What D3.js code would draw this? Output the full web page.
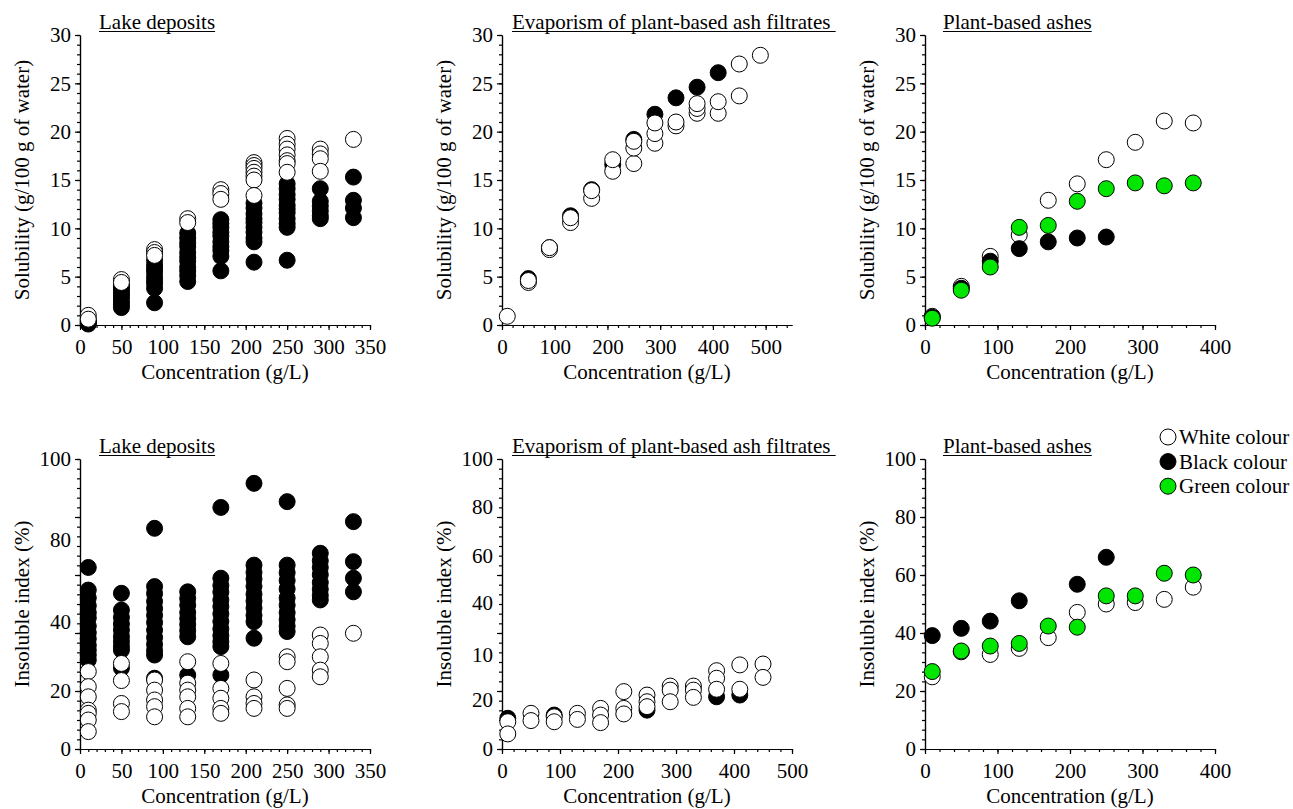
<!DOCTYPE html>
<html>
<head>
<meta charset="utf-8">
<script src="https://cdn.jsdelivr.net/npm/d3@7"></script>
<style>
body { margin: 0; background: #fff; }
</style>
</head>
<body>
<script>
// concentrations (g/L) for each panel
var concLake = [10, 50, 90, 130, 170, 210, 250, 290, 330];
var concEvap = [10, 50, 90, 130, 170, 210, 250, 290, 330, 370, 410, 450, 490];
var concEvapIns = [10, 50, 90, 130, 170, 210, 250, 290, 330, 370, 410, 450];
var concAsh = [10, 50, 90, 130, 170, 210, 250, 290, 330, 370];

// solubility (g/100 g of water) - lake deposits, several samples per concentration
var solLakeWhite = [[1.0, 0.6], [4.7, 4.4], [7.8, 7.5, 7.2], [11.0, 10.6], [14.0, 13.6, 13.0],
  [16.8, 16.5, 16.2, 15.8, 15.4, 15.0, 13.4], [19.3, 18.7, 18.2, 17.6, 17.0, 16.7, 15.8],
  [18.2, 17.7, 17.2, 15.9], [19.2]];
var solLakeBlack = [[0.1, 0.2, 0.35, 0.5], [1.8, 2.1, 2.4, 2.8, 3.1, 3.4, 3.7, 3.9, 4.1],
  [2.3, 3.8, 4.3, 4.6, 5.0, 5.5, 5.8, 6.2, 6.7], [4.5, 5.1, 5.6, 6.0, 6.6, 7.0, 7.5, 8.1, 8.5, 9.0, 9.5],
  [5.6, 7.1, 7.7, 8.1, 8.6, 9.2, 9.6, 10.1, 10.5, 10.9], [6.5, 8.6, 9.0, 9.6, 10.1, 10.6, 11.0, 11.5, 12.1, 12.6],
  [6.7, 10.1, 10.5, 11.0, 11.6, 12.0, 12.4, 13.0, 13.5, 14.1, 14.6], [11.0, 11.3, 11.8, 12.3, 12.8, 14.1],
  [11.1, 12.1, 12.9, 15.3]];

// solubility - evaporism of plant-based ash filtrates
var solEvapWhite = [[0.9], [4.4, 4.6], [7.8, 8.0], [10.6, 11.1], [13.1, 13.9], [15.9, 17.1],
  [16.7, 18.3, 19.0], [18.8, 19.8, 20.9], [20.6, 21.0], [21.9, 22.4, 22.9], [21.9, 23.1],
  [23.7, 27.0], [27.9]];
var solEvapBlack = [[], [4.8], [8.0], [11.3], [14.0], [16.6], [19.2], [21.8], [23.5], [24.6], [26.1], [], []];

// solubility - plant-based ashes
var solAshWhite = [0.9, 4.0, 7.1, 9.3, 12.9, 14.6, 17.1, 18.9, 21.1, 20.9];
var solAshBlack = [0.8, 3.8, 6.6, 7.9, 8.6, 9.0, 9.1];
var solAshGreen = [0.7, 3.6, 6.0, 10.1, 10.3, 12.8, 14.1, 14.7, 14.4, 14.7];

// insoluble index (%) - lake deposits
var insLakeWhite = [[26.7, 21.5, 18.0, 13.4, 12.3, 10.0, 6.0], [29.5, 23.6, 15.7, 12.9],
  [23.8, 20.3, 16.9, 14.6, 11.1], [30.1, 22.7, 20.3, 18.0, 14.0, 11.1], [29.5, 20.9, 17.5, 14.0, 12.3],
  [23.8, 18.0, 15.7, 14.0], [31.8, 30.1, 20.9, 15.2, 14.0], [39.3, 36.4, 31.8, 27.2, 24.9], [39.9]];
var insLakeBlack = [[62.6, 54.8, 52.1, 49.4, 47.0, 45.2, 42.4, 40.1, 38.0, 35.8, 34.1, 32.4, 30.7],
  [53.7, 47.9, 45.4, 43.1, 41.0, 38.8, 37.1, 35.4, 34.1, 27.9],
  [76.1, 56.0, 53.6, 50.9, 48.4, 46.1, 43.6, 41.0, 38.4, 36.1, 33.9, 32.4, 24.4],
  [54.2, 51.9, 49.6, 47.1, 45.0, 42.9, 40.8, 38.7, 25.5],
  [83.3, 58.9, 56.4, 54.1, 51.4, 49.1, 46.6, 44.0, 41.4, 39.1, 37.0, 35.3, 25.5],
  [91.6, 63.4, 60.9, 58.6, 56.1, 53.4, 51.0, 48.6, 46.1, 43.9, 38.2],
  [85.3, 63.4, 60.8, 58.1, 55.2, 52.1, 49.6, 47.0, 44.6, 42.4, 40.5],
  [67.5, 64.9, 62.6, 60.1, 57.4, 55.1, 53.0, 51.4], [78.4, 64.6, 58.9, 54.2]];

// insoluble index - evaporism of plant-based ash filtrates
var insEvapWhite = [[9.4, 5.2], [12.3, 9.8], [11.1, 9.4], [12.3, 10.2], [14.0, 11.7, 9.1],
  [19.8, 14.0, 12.1], [18.6, 16.3, 14.6], [21.7, 20.3, 16.3], [21.7, 20.3, 17.8],
  [27.0, 24.4, 20.6], [29.0, 20.6], [29.3, 24.7]];
var insEvapBlack = [[10.6], [], [11.7], [], [], [], [13.4], [], [], [18.0], [18.6], []];

// insoluble index - plant-based ashes
var insAshWhite = [24.9, 33.5, 32.6, 34.7, 38.4, 47.1, 50.0, 50.5, 51.6, 55.8];
var insAshBlack = [39.1, 41.6, 44.1, 51.1, null, 56.8, 66.1];
var insAshGreen = [26.7, 33.8, 35.5, 36.4, 42.4, 42.0, 52.8, 52.8, 60.6, 60.0];

// y tick labels as printed (the lower left/middle axes are labelled unevenly)
var solTickVals = [0, 5, 10, 15, 20, 25, 30];
var solTickText = ["0", "5", "10", "15", "20", "25", "30"];
var insLakeTickVals = [0, 20, 43.8, 72.1, 100];
var insLakeTickText = ["0", "20", "40", "80", "100"];
var insEvapTickVals = [0, 16.9, 32.4, 50.3, 66.6, 83.4, 100];
var insEvapTickText = ["0", "20", "10", "40", "60", "80", "100"];
var insAshTickVals = [0, 20, 40, 60, 80, 100];
var insAshTickText = ["0", "20", "40", "60", "80", "100"];

var legendNames = ["White colour", "Black colour", "Green colour"];
var colours = { white: "#ffffff", black: "#000000", green: "#00e600" };

var W = 1293, H = 809, size = 290, r = 8, fs = 21;
var serif = "'Liberation Serif', 'Times New Roman', Times, serif";

var svg = d3.select("body").append("svg")
  .attr("width", W)
  .attr("height", H);

// flatten [conc, [v,v,...]] into points
function pts(conc, vals) {
  var out = [];
  conc.forEach(function(c, i) {
    var v = vals[i];
    if (v === undefined || v === null) return;
    if (Array.isArray(v)) v.forEach(function(d) { out.push([c, d]); });
    else out.push([c, v]);
  });
  return out;
}

function panel(o) {
  var g = svg.append("g").attr("transform", "translate(" + o.left + "," + o.top + ")");
  var x = d3.scaleLinear().domain([0, o.xMax]).range([0, size]);
  var y = d3.scaleLinear().domain([0, o.yMax]).range([size, 0]);

  // minor ticks
  g.append("g").attr("transform", "translate(0," + size + ")")
    .call(d3.axisBottom(x).tickValues(d3.range(0, o.xMax + 0.01, o.xMinor)).tickSize(3).tickSizeOuter(0).tickFormat(""));
  g.append("g")
    .call(d3.axisLeft(y).tickValues(d3.range(0, o.yMax + 0.01, o.yMinor)).tickSize(3).tickSizeOuter(0).tickFormat(""));
  // major ticks
  g.append("g").attr("class", "xa").attr("transform", "translate(0," + size + ")")
    .call(d3.axisBottom(x).tickValues(d3.range(0, o.xMax + 0.01, o.xMajor)).tickSize(5).tickSizeOuter(0).tickPadding(9));
  g.append("g")
    .call(d3.axisLeft(y).tickValues(d3.range(0, o.yMax + 0.01, o.yMajor)).tickSize(5).tickSizeOuter(0).tickFormat(""));
  // y labels as printed
  g.append("g").attr("class", "ya")
    .call(d3.axisLeft(y).tickValues(o.yTickVals).tickSize(0).tickPadding(9)
      .tickFormat(function(d, i) { return o.yTickText[i]; }));
  g.select(".ya .domain").remove();

  g.selectAll(".domain, .tick line").attr("stroke", "#000").attr("stroke-width", 1.2);
  g.selectAll(".tick text").attr("font-size", fs).attr("fill", "#000");

  // series
  o.series.forEach(function(s) {
    g.append("g").selectAll("circle")
      .data(pts(s.conc, s.vals))
      .enter().append("circle")
      .attr("cx", function(d) { return x(d[0]); })
      .attr("cy", function(d) { return y(d[1]); })
      .attr("r", r)
      .attr("fill", colours[s.col])
      .attr("stroke", "#000")
      .attr("stroke-width", 1);
  });

  // title with underline
  var t = g.append("text")
    .attr("x", o.titleX).attr("y", -6)
    .attr("font-size", fs)
    .style("font-family", serif)
    .style("white-space", "pre")
    .text(o.title);
  var tw = t.node().getComputedTextLength();
  g.append("line")
    .attr("x1", o.titleX).attr("x2", o.titleX + tw)
    .attr("y1", -3.5).attr("y2", -3.5)
    .attr("stroke", "#000").attr("stroke-width", 1.2);

  g.append("text")
    .attr("x", size / 2).attr("y", size + 54)
    .attr("text-anchor", "middle").attr("font-size", fs)
    .text("Concentration (g/L)");
  g.append("text")
    .attr("transform", "translate(" + (-51) + "," + (size / 2) + ") rotate(-90)")
    .attr("text-anchor", "middle").attr("font-size", fs)
    .text(o.yLabel);
  return g;
}

var solLab = "Solubility (g/100 g of water)", insLab = "Insoluble index (%)";

panel({ left: 80, top: 35, xMax: 350, xMajor: 50, xMinor: 10, yMax: 30, yMajor: 5, yMinor: 1,
  yTickVals: solTickVals, yTickText: solTickText, title: "Lake deposits", titleX: 19, yLabel: solLab,
  series: [{ conc: concLake, vals: solLakeBlack, col: "black" }, { conc: concLake, vals: solLakeWhite, col: "white" }] });

panel({ left: 502, top: 35, xMax: 550, xMajor: 100, xMinor: 20, yMax: 30, yMajor: 5, yMinor: 1,
  yTickVals: solTickVals, yTickText: solTickText, title: "Evaporism of plant-based ash filtrates ", titleX: 10, yLabel: solLab,
  series: [{ conc: concEvap, vals: solEvapBlack, col: "black" }, { conc: concEvap, vals: solEvapWhite, col: "white" }] });

panel({ left: 925, top: 35, xMax: 400, xMajor: 100, xMinor: 20, yMax: 30, yMajor: 5, yMinor: 1,
  yTickVals: solTickVals, yTickText: solTickText, title: "Plant-based ashes", titleX: 18, yLabel: solLab,
  series: [{ conc: concAsh, vals: solAshWhite, col: "white" }, { conc: concAsh, vals: solAshBlack, col: "black" },
    { conc: concAsh, vals: solAshGreen, col: "green" }] });

panel({ left: 80, top: 459, xMax: 350, xMajor: 50, xMinor: 10, yMax: 100, yMajor: 20, yMinor: 100 / 30,
  yTickVals: insLakeTickVals, yTickText: insLakeTickText, title: "Lake deposits", titleX: 19, yLabel: insLab,
  series: [{ conc: concLake, vals: insLakeBlack, col: "black" }, { conc: concLake, vals: insLakeWhite, col: "white" }] });

panel({ left: 502, top: 459, xMax: 500, xMajor: 100, xMinor: 20, yMax: 100, yMajor: 20, yMinor: 100 / 30,
  yTickVals: insEvapTickVals, yTickText: insEvapTickText, title: "Evaporism of plant-based ash filtrates ", titleX: 10, yLabel: insLab,
  series: [{ conc: concEvapIns, vals: insEvapBlack, col: "black" }, { conc: concEvapIns, vals: insEvapWhite, col: "white" }] });

panel({ left: 925, top: 459, xMax: 400, xMajor: 100, xMinor: 20, yMax: 100, yMajor: 20, yMinor: 100 / 30,
  yTickVals: insAshTickVals, yTickText: insAshTickText, title: "Plant-based ashes", titleX: 18, yLabel: insLab,
  series: [{ conc: concAsh, vals: insAshWhite, col: "white" }, { conc: concAsh, vals: insAshBlack, col: "black" },
    { conc: concAsh, vals: insAshGreen, col: "green" }] });

// legend
var leg = svg.append("g").attr("transform", "translate(1168,437)");
var legCols = ["white", "black", "green"];
legendNames.forEach(function(n, i) {
  leg.append("circle").attr("cx", 0).attr("cy", i * 24.6).attr("r", r)
    .attr("fill", colours[legCols[i]]).attr("stroke", "#000").attr("stroke-width", 1);
  leg.append("text").attr("x", 11).attr("y", i * 24.6 + 7).attr("font-size", fs).text(n);
});

// serif face on every text, set as inline style
svg.selectAll("text").style("font-family", serif);
</script>
</body>
</html>
